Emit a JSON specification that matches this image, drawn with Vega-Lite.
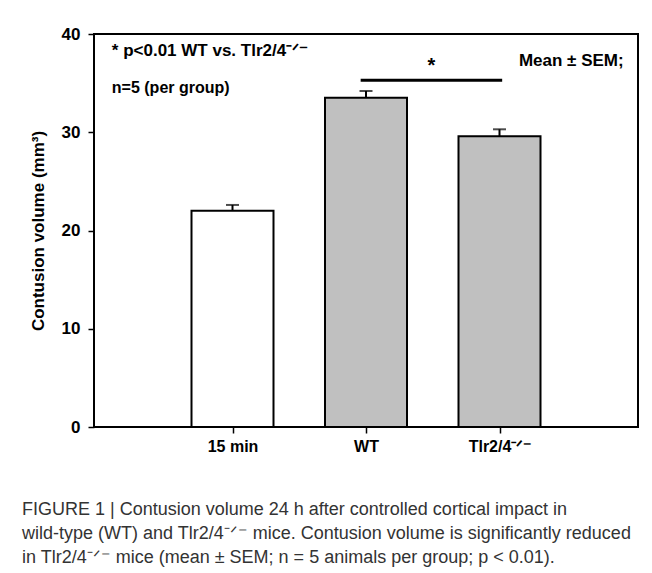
{
  "$schema": "https://vega.github.io/schema/vega-lite/v6.json",
  "width": 544,
  "height": 393,
  "autosize": {"type": "none"},
  "padding": {"left": 94, "top": 34, "right": 14, "bottom": 146},
  "background": "white",
  "config": {"view": {"stroke": "black", "strokeWidth": 2}, "font": "Liberation Sans"},
  "title": {
    "text": [
      "FIGURE 1 | Contusion volume 24 h after controlled cortical impact in",
      "wild-type (WT) and Tlr2/4⁻ᐟ⁻ mice. Contusion volume is significantly reduced",
      "in Tlr2/4⁻ᐟ⁻ mice (mean ± SEM; n = 5 animals per group; p < 0.01)."
    ],
    "orient": "bottom",
    "anchor": "start",
    "frame": "group",
    "dx": -72,
    "offset": 47,
    "fontSize": 18,
    "fontWeight": "normal",
    "color": "#333333",
    "lineHeight": 24,
    "font": "Liberation Sans"
  },
  "datasets": {
    "groups": [
      {"group": "15 min", "pos": 1, "mean": 22.0, "upper": 22.6},
      {"group": "WT", "pos": 2, "mean": 33.5, "upper": 34.2},
      {"group": "Tlr2/4-/-", "pos": 3, "mean": 29.6, "upper": 30.3}
    ],
    "sig": [{"from": 1.96, "to": 3.02, "level": 35.3}],
    "star": [{"label": "*", "ax": 2.49, "ay": 36.1}],
    "notesTop": [{"label": "* p<0.01 WT vs. Tlr2/4⁻ᐟ⁻", "ax": 0.096, "ay": 37.76}],
    "notesLeft": [{"label": "n=5 (per group)", "ax": 0.096, "ay": 34.0}],
    "notesRight": [{"label": "Mean ± SEM;", "ax": 3.93, "ay": 36.74}]
  },
  "layer": [
    {
      "data": {"name": "groups"},
      "mark": {"type": "bar", "orient": "vertical", "width": 82, "stroke": "black", "strokeWidth": 2},
      "encoding": {
        "x": {
          "field": "pos", "type": "quantitative",
          "scale": {"domain": [0, 4], "nice": false, "zero": false},
          "axis": {
            "values": [1, 2, 3],
            "labelExpr": "datum.value == 1 ? '15 min' : datum.value == 2 ? 'WT' : 'Tlr2/4⁻ᐟ⁻'",
            "title": null, "grid": false, "domain": false,
            "tickSize": 6, "tickColor": "black", "tickWidth": 1.5,
            "labelFontSize": 16, "labelFontWeight": "bold", "labelColor": "black", "labelPadding": 5
          }
        },
        "y": {
          "field": "mean", "type": "quantitative", "stack": null,
          "scale": {"domain": [0, 40], "nice": false},
          "axis": {
            "values": [0, 10, 20, 30, 40],
            "title": "Contusion volume (mm³)",
            "titleFontSize": 17, "titleFontWeight": "bold", "titleColor": "black", "titlePadding": 14,
            "grid": false, "domain": false,
            "tickSize": 6, "tickColor": "black", "tickWidth": 1.5,
            "labelFontSize": 17, "labelFontWeight": "bold", "labelColor": "black", "labelPadding": 8
          }
        },
        "color": {
          "field": "group", "type": "nominal",
          "scale": {"domain": ["15 min", "WT", "Tlr2/4-/-"], "range": ["white", "#c0c0c0", "#c0c0c0"]},
          "legend": null
        }
      }
    },
    {
      "data": {"name": "groups"},
      "mark": {"type": "rule", "color": "black", "strokeWidth": 2},
      "encoding": {
        "x": {"field": "pos", "type": "quantitative"},
        "y": {"field": "mean", "type": "quantitative"},
        "y2": {"field": "upper"}
      }
    },
    {
      "data": {"name": "groups"},
      "mark": {"type": "tick", "orient": "horizontal", "color": "black", "size": 13, "thickness": 2},
      "encoding": {
        "x": {"field": "pos", "type": "quantitative"},
        "y": {"field": "upper", "type": "quantitative"}
      }
    },
    {
      "data": {"name": "sig"},
      "mark": {"type": "rule", "color": "black", "strokeWidth": 3},
      "encoding": {
        "x": {"field": "from", "type": "quantitative"},
        "x2": {"field": "to"},
        "y": {"field": "level", "type": "quantitative"}
      }
    },
    {
      "data": {"name": "star"},
      "mark": {"type": "text", "fontSize": 20, "fontWeight": "bold", "align": "center", "baseline": "alphabetic", "color": "black"},
      "encoding": {
        "x": {"field": "ax", "type": "quantitative"},
        "y": {"field": "ay", "type": "quantitative"},
        "text": {"field": "label"}
      }
    },
    {
      "data": {"name": "notesTop"},
      "mark": {"type": "text", "fontSize": 17, "fontWeight": "bold", "align": "left", "baseline": "alphabetic", "color": "black"},
      "encoding": {
        "x": {"field": "ax", "type": "quantitative"},
        "y": {"field": "ay", "type": "quantitative"},
        "text": {"field": "label"}
      }
    },
    {
      "data": {"name": "notesLeft"},
      "mark": {"type": "text", "fontSize": 16, "fontWeight": "bold", "align": "left", "baseline": "alphabetic", "color": "black"},
      "encoding": {
        "x": {"field": "ax", "type": "quantitative"},
        "y": {"field": "ay", "type": "quantitative"},
        "text": {"field": "label"}
      }
    },
    {
      "data": {"name": "notesRight"},
      "mark": {"type": "text", "fontSize": 17, "fontWeight": "bold", "align": "right", "baseline": "alphabetic", "color": "black"},
      "encoding": {
        "x": {"field": "ax", "type": "quantitative"},
        "y": {"field": "ay", "type": "quantitative"},
        "text": {"field": "label"}
      }
    }
  ]
}
